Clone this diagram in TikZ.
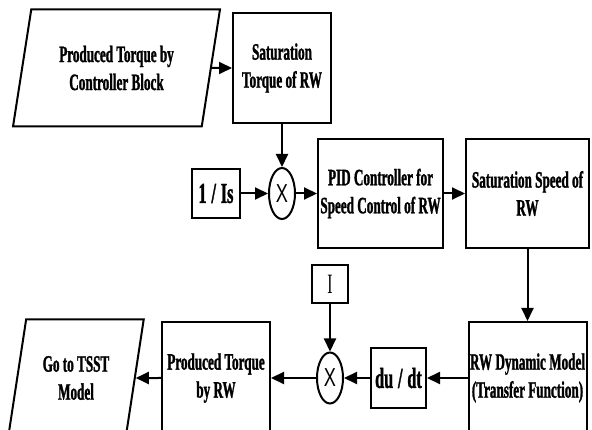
\documentclass[tikz,border=0pt]{standalone}
\usepackage{fontspec}
\setmainfont{Liberation Serif}[FakeStretch=0.56,BoldFeatures={FakeBold=1.2}]
\newfontfamily\signfont{Liberation Sans}[FakeStretch=0.7]
\usetikzlibrary{shapes.geometric,arrows.meta}
\begin{document}
\begin{tikzpicture}
[x=1pt,y=-1pt,
  blockdecorate/.style={shape=rectangle,draw,line width=2pt,inner sep=1pt,align=center,
    font=\fontsize{23.5}{28}\selectfont\bfseries},
  iodecorate/.style={shape=trapezium,trapezium left angle=75,trapezium right angle=105,
    trapezium stretches=true,draw,line width=2pt,inner sep=1pt,align=center,
    font=\fontsize{23.5}{28}\selectfont\bfseries,minimum width=207pt,minimum height=117pt},
  multdecorate/.style={shape=ellipse,draw,line width=2pt,inner sep=0pt,
    minimum width=26pt,minimum height=51pt,font=\fontsize{26}{26}\signfont},
  linedecorate/.style={-{Triangle[length=13pt,width=12pt]},line width=2pt}]
\clip (0,0) rectangle (592,430);
%% blocks
\node (prodctrl) at (116.5,68) [iodecorate] {Produced Torque by\\Controller Block};
\node (sattorque) at (282,68) [blockdecorate,minimum width=98pt,minimum height=110pt] {Saturation\\Torque of RW};
\node (invinertia) at (216,193.5) [blockdecorate,minimum width=48pt,minimum height=49pt,
  font=\fontsize{29}{29}\selectfont\bfseries] {1\,/\,Is};
\node (multone) at (282,193.5) [multdecorate] {X};
\node (pid) at (380.5,193.5) [blockdecorate,minimum width=125pt,minimum height=109pt] {PID Controller for\\Speed Control of RW};
\node (satspeed) at (527.5,193.5) [blockdecorate,minimum width=123pt,minimum height=109pt] {Saturation Speed of\\RW};
\node (rwdyn) at (527.5,378) [blockdecorate,minimum width=118pt,minimum height=112pt] {RW Dynamic Model\\(Transfer Function)};
\node (dudt) at (398.5,378) [blockdecorate,minimum width=55pt,minimum height=60pt,
  font=\fontsize{29}{29}\selectfont\bfseries] {du\,/\,dt};
\node (multtwo) at (330,378) [multdecorate] {X};
\node (inertia) at (330,284) [blockdecorate,minimum width=36pt,minimum height=38pt,
  font=\fontsize{28}{28}\selectfont] {I};
\node (prodrw) at (216,378) [blockdecorate,minimum width=108pt,minimum height=112pt] {Produced Torque\\by RW};
\node (gotsst) at (76,378) [iodecorate,minimum width=136pt] {Go to TSST\\Model};
%% connectors
\path
\foreach \startnode/\endnode in {prodctrl/sattorque, sattorque/multone, invinertia/multone,
  multone/pid, pid/satspeed, satspeed/rwdyn, rwdyn/dudt, dudt/multtwo, inertia/multtwo,
  multtwo/prodrw, prodrw/gotsst} {
  (\startnode) edge[linedecorate] (\endnode)
};
\end{tikzpicture}
\end{document}
